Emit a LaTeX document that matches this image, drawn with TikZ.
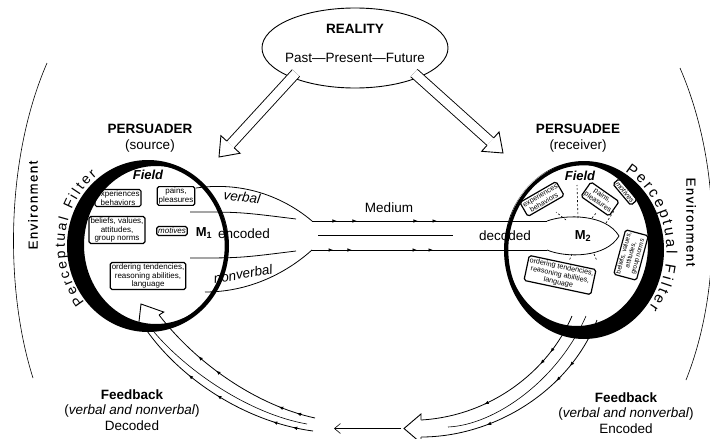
\documentclass[tikz,border=0pt]{standalone}
\usepackage{fontspec}
\setmainfont{Liberation Sans}
\usetikzlibrary{calc,arrows.meta,decorations.markings,decorations.text,shapes.geometric}
\tikzset{
  mytip/.tip={Latex[length=4.5pt,width=3.6pt]},
  fwdm/.style={postaction={decorate,decoration={markings,mark=at position #1 with {\arrow{mytip}}}}},
  revm/.style={postaction={decorate,decoration={markings,mark=at position #1 with {\arrowreversed{mytip}}}}},
  lbl/.style={inner sep=0pt, font=\fontsize{13.5}{15.5}\selectfont},
  ilbl/.style={inner sep=0pt, font=\itshape\fontsize{13.5}{15.5}\selectfont},
  blbl/.style={inner sep=0pt, font=\bfseries\fontsize{13.5}{15.5}\selectfont},
  stack/.style={inner sep=0pt, align=center, font=\fontsize{13.5}{15.5}\selectfont},
  ibox/.style={draw, rounded corners=1.8pt, line width=1.2pt, align=center, inner sep=1.5pt, font=\fontsize{8}{8.3}\selectfont},
  rbox/.style={ibox, font=\fontsize{7.2}{7.9}\selectfont},
  tube/.style={line width=.8pt},
  fine/.style={line width=.6pt},
  ring/.style={line width=3.6pt},
  envt/.style={inner sep=0pt, font=\fontsize{13}{15}\selectfont\addfontfeature{LetterSpace=12,FakeBold=0.6}},
  dsh/.style={line width=.6pt, dash pattern=on 2pt off 2pt},
}
\newcommand\hollowhead[4]{%
  \fill[white] (#2) -- ($(#1)!#3!90:(#2)$) -- ($(#1)!#3!-90:(#2)$) -- cycle;
  \draw[line width=.9pt, line join=miter] ($(#1)!#4!90:(#2)$) -- ($(#1)!#3!90:(#2)$) -- (#2) -- ($(#1)!#3!-90:(#2)$) -- ($(#1)!#4!-90:(#2)$);
}
\begin{document}
\begin{tikzpicture}[x=1pt,y=-1pt]
\useasboundingbox (0,0) rectangle (710,439);

% environment arcs
\coordinate (ela) at (47,63); \coordinate (elb) at (33,378);
\coordinate (era) at (680,68); \coordinate (erb) at (686,380);
\draw[fine] (ela) .. controls (5,160) and (5,290) .. (elb);
\draw[fine] (era) .. controls (722,165) and (722,290) .. (erb);
\node[envt, rotate=90] (envl) at (33,205) {Environment};
\node[envt, rotate=-90] (envr) at (691,222) {Environment};

% reality
\node[draw, ellipse, line width=.9pt, minimum width=186pt, minimum height=80pt] (reality) at (355,48) {};
\node[blbl] (realt) at (355,29) {REALITY};
\node[lbl] (ppf) at (355,58) {Past—Present—Future};
\coordinate (ra1) at (296,73); \coordinate (rt1) at (219,157);
\coordinate (rb1) at ($(rt1)!17pt!(ra1)$);
\coordinate (ra2) at (414,73); \coordinate (rt2) at (503,153);
\coordinate (rb2) at ($(rt2)!17pt!(ra2)$);
\draw[line width=.9pt, double=white, double distance=9pt] (ra1) -- (rb1);
\draw[line width=.9pt, double=white, double distance=9pt] (ra2) -- (rb2);
\hollowhead{rb1}{rt1}{13pt}{4.95pt}
\hollowhead{rb2}{rt2}{13pt}{4.95pt}

% funnel (encoded)
\draw[tube] (196,188) .. controls (252,180) and (292,204) .. (312,221);
\draw[tube] (205,292) .. controls (255,292) and (292,268) .. (312,250);
\draw[tube] (190,212) .. controls (240,212) .. (296,219);
\draw[tube] (190,258) .. controls (240,258) .. (296,251);
\node[ilbl, rotate=-8] (verbal) at (242,197) {verbal};
\node[lbl] (encoded) at (244,234) {encoded};
\node[ilbl, rotate=10] (nonverbal) at (243,274) {nonverbal};

% medium
\coordinate (mt1) at (312,221); \coordinate (mt2) at (547,221);
\coordinate (mb1) at (312,250); \coordinate (mb2) at (547,250);
\draw[tube, fwdm=.106, fwdm=.191, fwdm=.451, fwdm=.532] (mt1) -- (mt2);
\draw[tube, fwdm=.09, fwdm=.17, fwdm=.447, fwdm=.515] (mb1) -- (mb2);
\draw[fine] (318,235.5) -- (453,235.5);
\node[lbl] (medium) at (389,208) {Medium};
\node[lbl] (decoded) at (505,235.5) {decoded};
\draw[tube] (mt2) .. controls (566,214) and (606,214) .. (619,236) .. controls (606,258) and (566,258) .. (mb2);

% feedback tubes
\coordinate (lfb) at (151,320); \coordinate (lft) at (141,304);
\coordinate (lfu) at ($(lfb)!9.5pt!-90:(lft)$);
\coordinate (lfl) at ($(lfb)!9.5pt!90:(lft)$);
\coordinate (lfe1) at (315,418); \coordinate (lfe2) at (313,431); \coordinate (lfe3) at (307,424);
\draw[tube, revm=.3, revm=.42, revm=.8, revm=.9] (lfu) .. controls (195,362) and (255,405) .. (lfe1);
\draw[tube, revm=.33, revm=.5, revm=.8, revm=.9] (lfl) .. controls (178,378) and (245,422) .. (lfe2);
\draw[fine] (154,332) .. controls (188,372) and (250,414) .. (lfe3);
\hollowhead{lfb}{lft}{15pt}{9.5pt}

\coordinate (rfb) at (421,428.5); \coordinate (rft) at (404,428.5);
\coordinate (rfu) at ($(rfb)!8.5pt!-90:(rft)$);
\coordinate (rfl) at ($(rfb)!8.5pt!90:(rft)$);
\draw[tube, fwdm=.22, fwdm=.3, fwdm=.66] (572,316) .. controls (548,372) and (490,416) .. (rfu);
\draw[tube, fwdm=.24, fwdm=.33, fwdm=.7] (597,320) .. controls (570,390) and (495,437) .. (rfl);
\draw[fine] (586,316) .. controls (558,380) and (495,425) .. (448,427);
\hollowhead{rfb}{rft}{14.5pt}{8.5pt}
\coordinate (ta1) at (401,428.5); \coordinate (ta2) at (334,428.5);
\draw[fine, -{Straight Barb[length=6pt,width=10pt]}] (ta1) -- (ta2);

% rings
\coordinate (L) at (148,246); \coordinate (R) at (584,250);
\fill[even odd rule] (L) ellipse (81 and 86) (156,245) ellipse (72 and 79);
\draw[ring] (L) ellipse (78.5 and 83.5);
\fill[even odd rule] (R) ellipse (80 and 89) (577,245) ellipse (71 and 81);
\draw[ring] (R) ellipse (77.5 and 86.5);

% left circle contents
\node[inner sep=0pt, font=\bfseries\itshape\fontsize{13}{14}\selectfont] (lfield) at (148,175) {Field};
\node[ibox] (lexp) at (118,198) {experiences\\behaviors};
\node[ibox] (lpain) at (176,196) {pains,\\pleasures};
\node[ibox] (lbel) at (117,230) {beliefs, values,\\attitudes,\\group norms};
\node[ibox, font=\itshape\fontsize{8}{8.3}\selectfont] (lmot) at (172,231) {motives};
\node[inner sep=0pt, font=\bfseries\fontsize{13}{14}\selectfont] (m1) at (204,233) {M\textsubscript{1}};
\node[ibox] (lord) at (148,276) {ordering tendencies,\\reasoning abilities,\\language};

% right circle contents
\node[inner sep=0pt, font=\bfseries\itshape\fontsize{13}{14}\selectfont] (rfield) at (580,176) {Field};
\node[inner sep=0pt, font=\bfseries\fontsize{13}{14}\selectfont] (m2) at (583,236) {M\textsubscript{2}};
\node[rbox, rotate=30] (rexp) at (542,199) {experiences\\behaviors};
\node[rbox, rotate=-35] (rpain) at (600,199) {pains,\\pleasures};
\node[rbox, rotate=-50, font=\itshape\fontsize{7.2}{7.9}\selectfont] (rmot) at (625,192) {motives};
\node[rbox, rotate=75, font=\fontsize{6.5}{7.2}\selectfont] (rbel) at (631,255) {beliefs, values,\\attitudes,\\group norms};
\node[rbox, rotate=-12] (rord) at (560,275) {ordering tendencies,\\reasoning abilities,\\language};
\draw[dsh] (566,220) -- (556,212);
\draw[dsh] (578,218) -- (577,185);
\draw[dsh] (592,218) -- (597,212);
\draw[dsh] (606,223) -- (614,211);
\draw[dsh] (572,254) -- (569,261);
\draw[dsh] (594,254) -- (597,261);

% perceptual filter
\path[decorate, decoration={text along path, text={|\fontsize{14}{16}\selectfont|Perceptual Filter}, text align={fit to path}}]
  (84.4,302.6) arc[start angle=140, end angle=232, x radius=84, y radius=89];
\path[decorate, decoration={text along path, text={|\fontsize{15}{17}\selectfont|Perceptual Filter}, text align={fit to path}}]
  (625,171.2) arc[start angle=-60, end angle=38, x radius=83, y radius=92];

% headings
\node[blbl] (persr) at (150,129) {PERSUADER};
\node[lbl] (src) at (150,146) {(source)};
\node[blbl] (perse) at (578,129) {PERSUADEE};
\node[lbl] (rcv) at (578,146) {(receiver)};
\node[stack] (fbl) at (132,410) {\textbf{Feedback}\\(\textit{verbal and nonverbal})\\Decoded};
\node[stack] (fbr) at (626,413) {\textbf{Feedback}\\(\textit{verbal and nonverbal})\\Encoded};
\end{tikzpicture}
\end{document}
